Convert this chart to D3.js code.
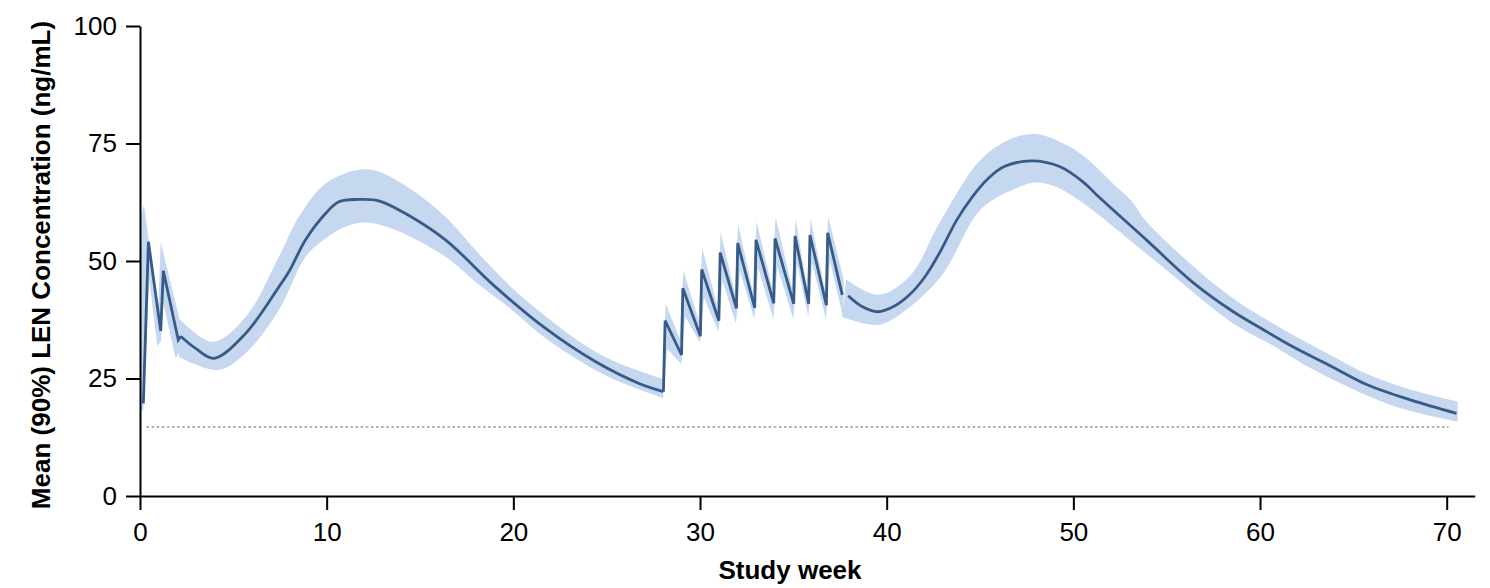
<!DOCTYPE html>
<html><head><meta charset="utf-8">
<script src="https://cdn.jsdelivr.net/npm/d3@7"></script>
<style>
html,body{margin:0;padding:0;background:#fff;}
svg{display:block;font-family:"Liberation Sans",Arial,sans-serif;}
</style></head><body>
<svg id="chart" width="1490" height="588"></svg>
<script>
// ---- tick labels / axes ----
const xTicks = [0, 10, 20, 30, 40, 50, 60, 70];
const yTicks = [0, 25, 50, 75, 100];
const xTitle = "Study week";
const yTitle = "Mean (90%) LEN Concentration (ng/mL)";

// ---- reference (dotted) level ----
const thresholdValue = 14.7;
const thresholdWeeks = [0.35, 70.1];

// ---- mean concentration, [week, ng/mL] ----
const meanLoading = [[0.18,19.7],[0.45,54.1],[1.11,35.1],[1.25,47.9],[2.05,33.2],[2.18,34.0]];
const meanFirstCycle = [[2.18,34.0],[2.98,31.4],[3.96,29.3],[5.66,34.6],[7.44,44.5],[8.03,48.1],[8.87,54.5],[9.94,60.1],[10.65,62.6],[11.72,63.1],[12.79,62.8],[14.22,60.1],[16.36,54.5],[19.04,44.5],[21.71,35.7],[24.39,28.6],[26.70,24.0],[28.04,22.2]];
const meanWeekly = [[28.04,22.2],[28.13,37.3],[29.01,30.0],[29.08,44.2],[30.02,34.0],[30.09,48.2],[31.01,37.3],[31.08,51.8],[31.95,39.9],[32.02,53.8],[32.93,40.0],[33.00,54.5],[33.95,41.0],[34.02,54.8],[35.02,40.9],[35.09,55.3],[35.82,40.9],[35.89,55.5],[36.77,40.6],[36.84,56.0],[37.62,42.8]];
const meanSecondCycle = [[37.94,42.6],[38.68,40.3],[39.52,39.2],[40.37,40.3],[41.22,42.8],[42.06,46.7],[42.91,52.3],[43.75,58.7],[44.60,63.7],[45.45,67.6],[46.30,70.1],[47.78,71.3],[49.26,70.1],[50.53,66.8],[51.37,63.6],[53.91,54.5],[56.45,45.3],[58.57,39.2],[60.05,35.7],[61.74,31.8],[63.86,27.5],[65.77,23.6],[68.09,20.4],[70.52,17.6]];

// ---- 90% interval bounds, [week, ng/mL] ----
const upperLoading = [[0.00,20.0],[0.08,60.0],[0.21,62.0],[0.98,40.0],[1.11,54.0],[2.09,38.1]];
const lowerLoading = [[0.00,17.9],[0.18,18.3],[0.50,46.0],[0.93,31.8],[1.12,33.0],[1.25,41.0],[1.91,29.3],[2.09,30.5]];
const upperFirstCycle = [[2.09,37.8],[3.87,32.8],[5.66,38.1],[7.44,50.9],[8.51,59.4],[9.94,66.5],[11.72,69.4],[12.79,69.0],[14.57,65.1],[16.36,59.4],[18.14,51.6],[19.92,44.3],[21.71,38.3],[23.49,33.0],[25.28,28.9],[27.95,25.0]];
const lowerFirstCycle = [[2.09,29.6],[4.23,26.8],[5.66,30.4],[7.44,39.6],[8.87,50.9],[9.94,54.8],[11.01,57.3],[12.08,58.2],[13.68,56.6],[16.36,50.9],[18.14,45.0],[19.92,39.6],[21.71,33.6],[23.49,28.9],[25.28,25.0],[28.04,20.8]];
const upperWeekly = [[27.97,24.5],[28.16,40.9],[28.91,33.5],[29.11,47.9],[29.92,37.5],[30.12,52.7],[30.91,40.8],[31.11,56.1],[31.85,43.4],[32.05,57.7],[32.83,43.5],[33.03,58.4],[33.85,44.5],[34.05,59.4],[34.92,44.4],[35.12,59.1],[35.72,44.4],[35.92,59.1],[36.67,44.1],[36.87,59.4],[37.70,46.0]];
const lowerWeekly = [[27.99,20.6],[28.25,31.3],[28.99,28.1],[29.20,38.2],[30.00,32.6],[30.21,42.2],[30.99,35.0],[31.20,45.8],[31.93,36.6],[32.14,47.8],[32.91,37.6],[33.12,48.5],[33.93,37.6],[34.14,48.8],[35.00,37.6],[35.21,49.3],[35.80,38.1],[36.01,49.5],[36.75,37.6],[36.96,50.0],[37.68,37.8]];
const upperSecondCycle = [[37.83,46.1],[39.52,42.8],[41.22,46.7],[42.91,58.7],[45.02,71.5],[46.72,76.1],[47.99,77.0],[49.47,75.0],[50.60,72.2],[52.30,65.8],[53.07,63.0],[53.91,58.4],[56.45,48.8],[58.57,42.0],[60.69,36.7],[63.86,29.8],[65.77,25.9],[68.09,22.6],[70.59,20.1]];
const lowerSecondCycle = [[37.62,38.1],[39.52,36.4],[40.80,38.9],[42.91,46.7],[45.02,60.9],[46.72,65.1],[47.99,66.7],[49.05,65.8],[50.53,62.3],[54.33,50.2],[58.57,36.7],[60.69,32.0],[62.80,27.0],[67.03,19.3],[70.59,15.8]];

// ---- styling ----
const lineColor = "#375a87";
const bandColor = "#c6d8f0";

const svg = d3.select("#chart");
const x = d3.scaleLinear().domain([0, 71.5]).range([140, 1474.7]);
const y = d3.scaleLinear().domain([0, 100]).range([496, 26]);

const smooth = d3.curveCatmullRom.alpha(0.5);
function bandPath(upper, lower, curve) {
  const l = d3.line().x(d => x(d[0])).y(d => y(d[1])).curve(curve);
  const up = l(upper);
  const lo = l(lower.slice().reverse());
  return up + "L" + lo.slice(1) + "Z";
}

const bands = [
  [upperLoading, lowerLoading, d3.curveLinear],
  [upperFirstCycle, lowerFirstCycle, smooth],
  [upperWeekly, lowerWeekly, d3.curveLinear],
  [upperSecondCycle, lowerSecondCycle, smooth]
];
// dotted reference line
svg.append("line")
  .attr("x1", x(thresholdWeeks[0])).attr("x2", x(thresholdWeeks[1]))
  .attr("y1", y(thresholdValue)).attr("y2", y(thresholdValue))
  .attr("stroke", "#b0b0b0").attr("stroke-width", 2)
  .attr("stroke-dasharray", "2.5,2.6");

svg.append("g").selectAll("path").data(bands).join("path")
  .attr("d", d => bandPath(d[0], d[1], d[2]))
  .attr("fill", bandColor).attr("stroke", "none");

const meanPieces = [
  [meanLoading, d3.curveLinear],
  [meanFirstCycle, smooth],
  [meanWeekly, d3.curveLinear],
  [meanSecondCycle, smooth]
];
svg.append("g").selectAll("path").data(meanPieces).join("path")
  .attr("d", d => d3.line().x(p => x(p[0])).y(p => y(p[1])).curve(d[1])(d[0]))
  .attr("fill", "none").attr("stroke", lineColor)
  .attr("stroke-width", 2.8).attr("stroke-linejoin", "miter");

// axes
const yAxis = d3.axisLeft(y).tickValues(yTicks).tickSize(14).tickPadding(9).tickSizeOuter(0);
const xAxis = d3.axisBottom(x).tickValues(xTicks).tickSize(14).tickPadding(13).tickSizeOuter(0);
const gy = svg.append("g").attr("transform", "translate(140,0)").call(yAxis);
const gx = svg.append("g").attr("transform", "translate(0,496)").call(xAxis);
[gx, gy].forEach(g => {
  g.attr("font-size", null).attr("font-family", null);
  g.select(".domain").attr("stroke", "#000").attr("stroke-width", 2);
  g.selectAll(".tick line").attr("stroke", "#000").attr("stroke-width", 2);
  g.selectAll(".tick text").attr("fill", "#000")
    .style("font-size", "26px").style("font-family", '"Liberation Sans", Arial, sans-serif');
});

svg.append("text")
  .attr("transform", "translate(50,265) rotate(-90)")
  .attr("text-anchor", "middle")
  .style("font-size", "26px").style("font-weight", "bold").attr("fill", "#000")
  .text(yTitle);
svg.append("text")
  .attr("x", 790).attr("y", 579)
  .attr("text-anchor", "middle")
  .style("font-size", "26px").style("font-weight", "bold").attr("fill", "#000")
  .text(xTitle);
</script>
</body></html>
